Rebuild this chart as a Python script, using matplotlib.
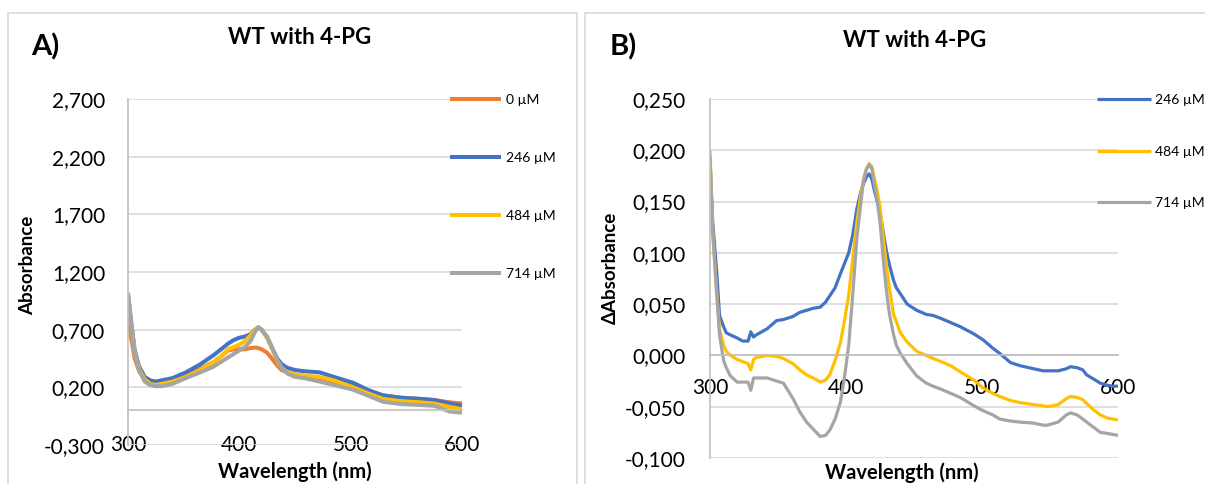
import numpy as np
import matplotlib
matplotlib.use('Agg')
import matplotlib.pyplot as plt
from matplotlib.patches import Rectangle
from matplotlib.ticker import FuncFormatter

plt.rcParams['font.family'] = ['Lato', 'DejaVu Sans']

# ── Panel A: absolute spectra ──
wl_a = [300, 303, 306, 310, 315, 320, 325, 330, 340, 352, 365, 377, 385, 390,
        395, 400, 405, 410, 414, 417, 420, 425, 430, 434, 438, 443, 450, 458,
        472, 485, 502, 515, 529, 545, 562, 575, 589, 600]
abs_0 = [0.80, 0.62, 0.45, 0.34, 0.27, 0.25, 0.24, 0.25, 0.27, 0.31, 0.36, 0.42,
         0.48, 0.52, 0.53, 0.53, 0.53, 0.54, 0.545, 0.54, 0.53, 0.50, 0.44, 0.39,
         0.35, 0.33, 0.31, 0.30, 0.28, 0.25, 0.21, 0.17, 0.13, 0.11, 0.10, 0.09,
         0.07, 0.06]
abs_246 = [1.00, 0.75, 0.52, 0.38, 0.29, 0.26, 0.25, 0.26, 0.28, 0.33, 0.40, 0.48,
           0.54, 0.58, 0.61, 0.63, 0.64, 0.66, 0.70, 0.72, 0.70, 0.63, 0.53, 0.45,
           0.40, 0.37, 0.35, 0.34, 0.33, 0.29, 0.24, 0.18, 0.13, 0.11, 0.10, 0.09,
           0.06, 0.04]
abs_484 = [1.00, 0.74, 0.50, 0.36, 0.27, 0.23, 0.22, 0.23, 0.25, 0.29, 0.35, 0.42,
           0.48, 0.53, 0.55, 0.57, 0.60, 0.65, 0.70, 0.72, 0.70, 0.63, 0.52, 0.43,
           0.37, 0.33, 0.31, 0.30, 0.29, 0.26, 0.20, 0.15, 0.10, 0.08, 0.07, 0.06,
           0.03, 0.01]
abs_714 = [1.02, 0.76, 0.50, 0.35, 0.25, 0.22, 0.21, 0.21, 0.23, 0.28, 0.33, 0.38,
           0.43, 0.46, 0.49, 0.52, 0.55, 0.60, 0.68, 0.72, 0.70, 0.64, 0.53, 0.44,
           0.37, 0.32, 0.29, 0.28, 0.25, 0.22, 0.18, 0.13, 0.075, 0.055, 0.047, 0.04,
           -0.01, -0.02]

# ── Panel B: difference spectra ──
wl_b = [300, 302, 305, 307, 310, 312, 315, 320, 324, 328, 330, 332, 334, 342,
        349, 354, 361, 366, 371, 376, 381, 385, 388, 392, 396, 399, 402, 405,
        408, 411, 413, 415, 417, 419, 421, 423, 425, 428, 430, 432, 435, 437,
        440, 445, 452, 459, 464, 470, 477, 484, 494, 501, 508, 513, 521, 528,
        538, 545, 548, 556, 562, 565, 570, 574, 577, 582, 587, 592, 596, 600]
d_246 = [0.190, 0.130, 0.080, 0.039, 0.028, 0.022, 0.020, 0.017, 0.014, 0.014,
         0.023, 0.018, 0.020, 0.026, 0.034, 0.035, 0.038, 0.042, 0.044, 0.046,
         0.047, 0.052, 0.058, 0.066, 0.080, 0.090, 0.100, 0.118, 0.143, 0.160,
         0.168, 0.174, 0.177, 0.172, 0.160, 0.150, 0.140, 0.115, 0.100, 0.088,
         0.073, 0.066, 0.060, 0.050, 0.044, 0.040, 0.039, 0.036, 0.032, 0.028,
         0.021, 0.015, 0.007, 0.002, -0.007, -0.010, -0.013, -0.015, -0.015, -0.015,
         -0.013, -0.011, -0.012, -0.014, -0.019, -0.023, -0.027, -0.029, -0.030, -0.030]
d_484 = [0.200, 0.120, 0.060, 0.026, 0.010, 0.004, 0.000, -0.004, -0.006, -0.008,
         -0.014, -0.004, -0.002, 0.000, -0.001, -0.003, -0.008, -0.014, -0.019, -0.022,
         -0.026, -0.024, -0.019, -0.005, 0.013, 0.035, 0.059, 0.095, 0.130, 0.158,
         0.172, 0.181, 0.187, 0.184, 0.172, 0.160, 0.145, 0.108, 0.085, 0.065,
         0.040, 0.033, 0.022, 0.013, 0.004, 0.000, -0.003, -0.006, -0.010, -0.016,
         -0.024, -0.032, -0.037, -0.040, -0.044, -0.046, -0.048, -0.049, -0.050, -0.048,
         -0.042, -0.040, -0.041, -0.043, -0.047, -0.053, -0.058, -0.061, -0.062, -0.063]
d_714 = [0.195, 0.120, 0.059, 0.020, -0.005, -0.012, -0.020, -0.026, -0.026, -0.026,
         -0.034, -0.022, -0.022, -0.022, -0.025, -0.027, -0.042, -0.055, -0.065, -0.072,
         -0.079, -0.078, -0.073, -0.062, -0.045, -0.020, 0.010, 0.060, 0.114, 0.150,
         0.172, 0.182, 0.186, 0.182, 0.165, 0.150, 0.130, 0.085, 0.060, 0.040,
         0.020, 0.010, 0.002, -0.008, -0.020, -0.027, -0.030, -0.033, -0.037, -0.041,
         -0.049, -0.054, -0.058, -0.062, -0.064, -0.065, -0.066, -0.068, -0.068, -0.065,
         -0.058, -0.056, -0.058, -0.062, -0.065, -0.070, -0.075, -0.076, -0.077, -0.078]

labels_a = ['0 µM', '246 µM', '484 µM', '714 µM']
labels_b = ['246 µM', '484 µM', '714 µM']
colors = {'0 µM': '#ED7D31', '246 µM': '#4472C4', '484 µM': '#FFC000', '714 µM': '#A5A5A5'}

ticks_a = np.arange(-0.3, 2.71, 0.5)
ticks_b = np.arange(-0.1, 0.251, 0.05)
xticks = [300, 400, 500, 600]

W, H = 1205, 484
fig = plt.figure(figsize=(W / 100, H / 100), dpi=100)

def fx(px):
    return px / W

def fy(py):
    return 1 - py / H

# panel frames (Excel chart areas)
fig.add_artist(Rectangle((fx(8), fy(500)), fx(577 - 8), fy(13) - fy(500),
                         transform=fig.transFigure, fill=False, ec='#D9D9D9', lw=1.2))
fig.add_artist(Rectangle((fx(585), fy(500)), fx(1230 - 585), fy(13) - fy(500),
                         transform=fig.transFigure, fill=False, ec='#D9D9D9', lw=1.2))

ax1 = fig.add_axes([fx(128), fy(445), fx(462 - 128), fy(99) - fy(445)])
ax2 = fig.add_axes([fx(710), fy(458), fx(1118 - 710), fy(99) - fy(458)])

comma = FuncFormatter(lambda v, p: f'{round(v, 3) + 0:.3f}'.replace('.', ','))

for ax in (ax1, ax2):
    ax.spines['top'].set_visible(False)
    ax.spines['right'].set_visible(False)
    ax.spines['left'].set_color('#BFBFBF')
    ax.spines['bottom'].set_color('#BFBFBF')
    ax.spines['left'].set_linewidth(1.2)
    ax.spines['bottom'].set_linewidth(1.2)
    ax.spines['bottom'].set_position(('data', 0))
    ax.grid(axis='y', color='#D9D9D9', lw=1.2)
    ax.set_axisbelow(True)
    ax.set_xlim(300, 600)
    ax.set_xticks(xticks)
    ax.yaxis.set_major_formatter(comma)
    ax.tick_params(axis='both', length=0, labelsize=15)

# Panel A
series_a = [abs_0, abs_246, abs_484, abs_714]
for lab, ys in zip(labels_a, series_a):
    ax1.plot(wl_a, ys, color=colors[lab], lw=2.9, label=lab, solid_capstyle='butt')
ax1.set_ylim(-0.3, 2.7)
ax1.set_yticks(ticks_a)
ax1.tick_params(axis='x', pad=17.5)
ax1.tick_params(axis='y', pad=16.5)
ax1.set_title('WT with 4-PG', fontsize=16, fontweight='bold', x=0.515, y=1.135)
ax1.set_xlabel('Wavelength (nm)', fontsize=14.5, fontweight='bold')
ax1.xaxis.set_label_coords(0.5, -0.078)
ax1.xaxis.label.set_va('center')
ax1.set_ylabel('Absorbance', fontsize=13.5, fontweight='bold')
ax1.yaxis.set_label_coords(-0.302, 0.52)
ax1.yaxis.label.set_va('center')
ax1.legend(loc='upper left', bbox_to_anchor=(fx(450), fy(94)), bbox_transform=fig.transFigure,
           frameon=False, fontsize=10, handlelength=3.7, handletextpad=0.35,
           labelspacing=3.3, borderpad=0, borderaxespad=0)

# Panel B
series_b = [d_246, d_484, d_714]
for lab, ys in zip(labels_b, series_b):
    ax2.plot(wl_b, ys, color=colors[lab], lw=2.3, label=lab, solid_capstyle='butt')
ax2.set_ylim(-0.1, 0.25)
ax2.set_yticks(ticks_b)
ax2.tick_params(axis='x', pad=16.5)
ax2.tick_params(axis='y', pad=17.5)
ax2.set_title('WT with 4-PG', fontsize=16, fontweight='bold', x=0.502, y=1.122)
ax2.set_xlabel('Wavelength (nm)', fontsize=14.5, fontweight='bold')
ax2.xaxis.set_label_coords(0.47, -0.042)
ax2.xaxis.label.set_va('center')
ax2.set_ylabel('ΔAbsorbance', fontsize=13.5, fontweight='bold')
ax2.yaxis.set_label_coords(-0.243, 0.53)
ax2.yaxis.label.set_va('center')
ax2.legend(loc='upper left', bbox_to_anchor=(fx(1097), fy(94)), bbox_transform=fig.transFigure,
           frameon=False, fontsize=10, handlelength=3.9, handletextpad=0.3,
           labelspacing=2.85, borderpad=0, borderaxespad=0)

fig.text(fx(45), fy(47), 'A)', fontsize=21, fontweight='bold', ha='center', va='center')
fig.text(fx(623), fy(47), 'B)', fontsize=21, fontweight='bold', ha='center', va='center')

fig.savefig('out.png', dpi=100)
